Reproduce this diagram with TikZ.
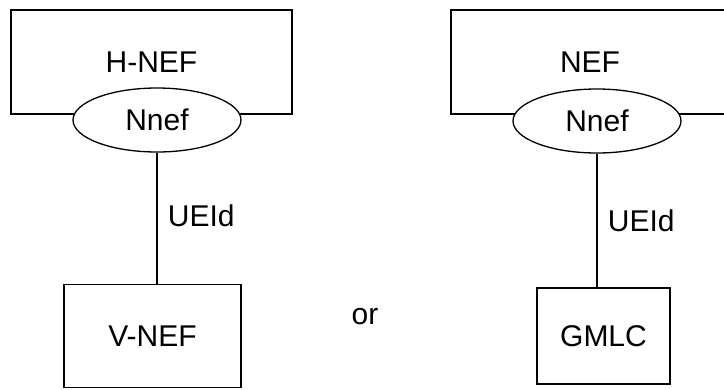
\documentclass[tikz,border=0pt]{standalone}
\usepackage{fontspec}
\setmainfont{Liberation Sans}
\usetikzlibrary{shapes.geometric}
\tikzset{
 nfbox/.style={draw, line width=1.3pt, rectangle, inner sep=0pt},
 svcif/.style={draw, line width=1.3pt, ellipse, fill=white, inner sep=0pt, minimum width=168, minimum height=64},
 refline/.style={line width=1.3pt}
}
\begin{document}
\begin{tikzpicture}[x=1pt, y=-1pt, font=\fontsize{30}{36}\selectfont]
\useasboundingbox (0,0) rectangle (724,389);
\clip (0,0) rectangle (724,389);
% left: H-NEF / V-NEF
\node[nfbox, minimum width=281, minimum height=104] (hnef) at (151.5,62) {H-NEF};
\node[svcif] (nnefh) at (157,120) {Nnef};
\node[nfbox, minimum width=177, minimum height=103] (vnef) at (152.5,336) {V-NEF};
\draw[refline] (nnefh.south) -- (nnefh.south |- vnef.north) node[pos=.48, right, xshift=7] (ueidh) {UEId};
% middle
\node (or) at (365,317) {or};
% right: NEF / GMLC
\node[nfbox, minimum width=278, minimum height=104] (nef) at (590,62) {NEF};
\node[svcif] (nnef) at (597,121) {Nnef};
\node[nfbox, minimum width=133, minimum height=96] (gmlc) at (603.5,336) {GMLC};
\draw[refline] (nnef.south) -- (nnef.south |- gmlc.north) node[pos=.5, right, xshift=7] (ueid) {UEId};
\end{tikzpicture}
\end{document}
